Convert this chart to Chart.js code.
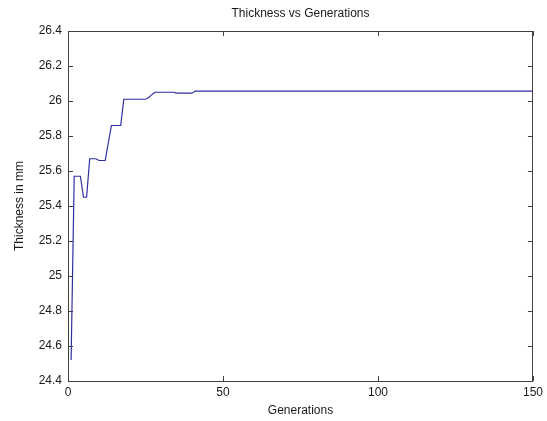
<!DOCTYPE html>
<html><head><meta charset="utf-8">
<script src="https://cdn.jsdelivr.net/npm/chart.js@4.4.1/dist/chart.umd.min.js"></script>
<style>html,body{margin:0;padding:0;background:#fff}#wrap{width:547px;height:421px}</style>
</head><body><div id="wrap"><canvas id="c" width="547" height="421"></canvas></div>
<script>
// Data (breakpoints of the curve)
const generations = [1, 2, 4, 5, 6, 7, 9, 10, 12, 13, 14, 17, 18, 25, 26, 27, 28, 34, 35, 40, 41, 150];
const thickness   = [24.52, 25.57, 25.57, 25.45, 25.45, 25.67, 25.67, 25.66, 25.66, 25.76, 25.86, 25.86,
                     26.01, 26.01, 26.02, 26.035, 26.05, 26.05, 26.045, 26.045, 26.057, 26.057];
const xTicks = [0, 50, 100, 150];
const yTicks = [24.4, 24.6, 24.8, 25, 25.2, 25.4, 25.6, 25.8, 26, 26.2, 26.4];
const chartTitle = 'Thickness vs Generations';
const xTitle = 'Generations';
const yTitle = 'Thickness in mm';

const points = generations.map((g, i) => ({x: g, y: thickness[i]}));
const TXT = '#1a1a1a';
const AX = '#404040';
const FONT = 'Liberation Sans, Arial, sans-serif';

const setTicks = arr => s => { s.ticks = arr.map(v => ({value: v})); };

const inwardTicks = {
  id: 'inwardTicks',
  afterDatasetsDraw(chart) {
    const {ctx, chartArea: a, scales} = chart;
    const L = 5;
    ctx.save();
    ctx.strokeStyle = AX;
    ctx.lineWidth = 1;
    ctx.beginPath();
    scales.x.ticks.forEach(t => {
      const p = Math.round(scales.x.getPixelForValue(t.value)) + 0.5;
      ctx.moveTo(p, a.bottom); ctx.lineTo(p, a.bottom - L);
      ctx.moveTo(p, a.top); ctx.lineTo(p, a.top + L);
    });
    scales.y.ticks.forEach(t => {
      const p = Math.round(scales.y.getPixelForValue(t.value)) + 0.5;
      ctx.moveTo(a.left, p); ctx.lineTo(a.left + L, p);
      ctx.moveTo(a.right, p); ctx.lineTo(a.right - L, p);
    });
    ctx.stroke();
    ctx.restore();
  }
};

const hiddenGrid = {display: false, drawTicks: false};
const border = {display: true, color: AX, width: 1};

new Chart(document.getElementById('c'), {
  type: 'line',
  data: {
    datasets: [{
      label: yTitle,
      data: points,
      borderColor: '#2e2ea0',
      borderWidth: 1.2,
      pointRadius: 0,
      tension: 0,
      fill: false
    }]
  },
  options: {
    responsive: false,
    animation: false,
    devicePixelRatio: 1,
    layout: {padding: 0},
    plugins: {legend: {display: false}, title: {display: false}, tooltip: {enabled: false}},
    scales: {
      x: {
        type: 'linear', position: 'bottom', min: 0, max: 150,
        afterBuildTicks: setTicks(xTicks),
        afterFit: s => { s.height = 40; },
        grid: hiddenGrid, border,
        ticks: {color: TXT, font: {family: FONT, size: 12}, padding: 4, maxRotation: 0},
        title: {display: true, text: xTitle, color: TXT, font: {family: FONT, size: 12}, padding: {top: 0, bottom: 3}}
      },
      x2: {
        type: 'linear', position: 'top', min: 0, max: 150,
        afterBuildTicks: setTicks(xTicks),
        afterFit: s => { s.height = 31; },
        grid: hiddenGrid, border,
        ticks: {display: false},
        title: {display: true, text: chartTitle, color: TXT, font: {family: FONT, size: 12}, padding: {top: 6, bottom: 0}}
      },
      y: {
        type: 'linear', position: 'left', min: 24.4, max: 26.4,
        afterBuildTicks: setTicks(yTicks),
        afterFit: s => { s.width = 68; },
        grid: hiddenGrid, border,
        ticks: {color: TXT, font: {family: FONT, size: 12}, padding: 6,
                callback: v => String(parseFloat(Number(v).toFixed(1)))},
        title: {display: true, text: yTitle, color: TXT, font: {family: FONT, size: 12}, padding: {top: 12, bottom: 0}}
      },
      y2: {
        type: 'linear', position: 'right', min: 24.4, max: 26.4,
        afterBuildTicks: setTicks(yTicks),
        afterFit: s => { s.width = 14; },
        grid: hiddenGrid, border,
        ticks: {display: false}
      }
    }
  },
  plugins: [inwardTicks]
});
</script>
</body></html>
